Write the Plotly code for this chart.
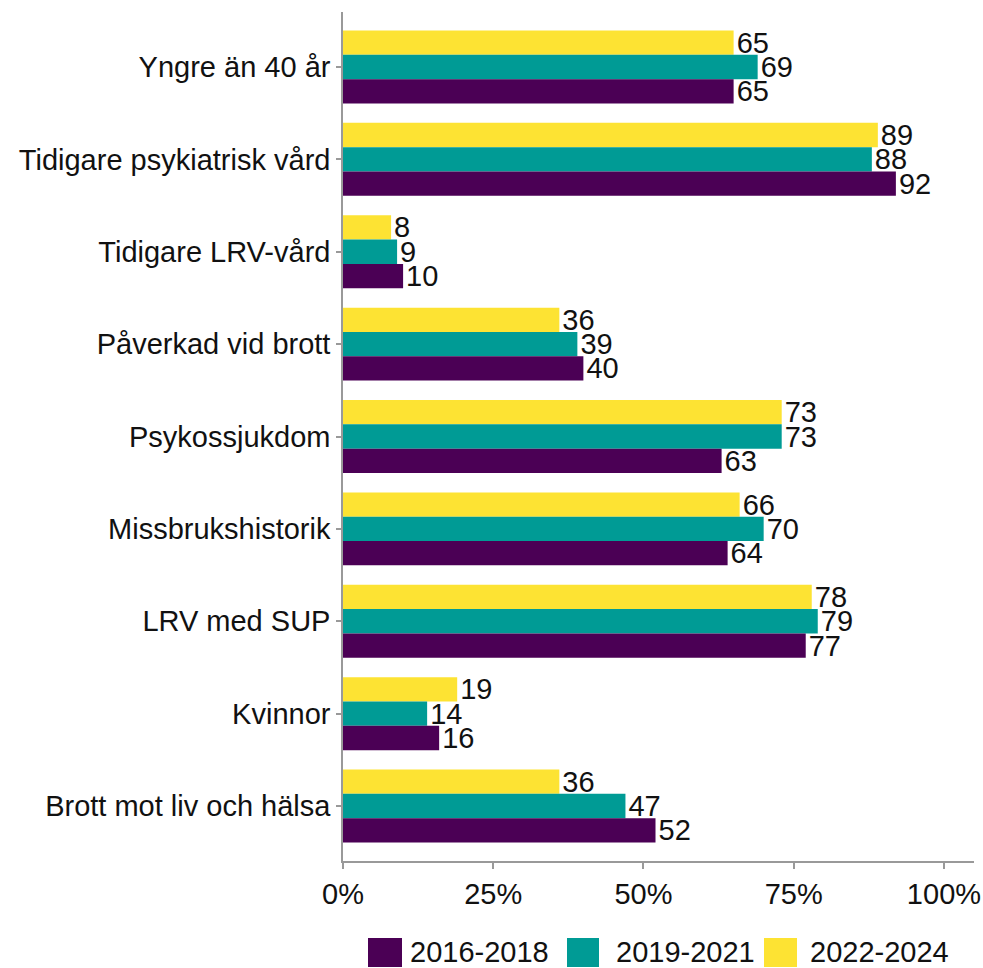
import plotly.graph_objects as go

categories = ["Yngre än 40 år", "Tidigare psykiatrisk vård", "Tidigare LRV-vård",
              "Påverkad vid brott", "Psykossjukdom", "Missbrukshistorik",
              "LRV med SUP", "Kvinnor", "Brott mot liv och hälsa"]
series_names = ["2016-2018", "2019-2021", "2022-2024"]
values_2016_2018 = [65, 92, 10, 40, 63, 64, 77, 16, 52]
values_2019_2021 = [69, 88, 9, 39, 73, 70, 79, 14, 47]
values_2022_2024 = [65, 89, 8, 36, 73, 66, 78, 19, 36]
colors = ["#4B0055", "#009B95", "#FDE333"]
x_ticks = [0, 25, 50, 75, 100]
x_tick_labels = ["0%", "25%", "50%", "75%", "100%"]

series_values = [values_2016_2018, values_2019_2021, values_2022_2024]

FONT = "Liberation Sans, Arial, sans-serif"
FS = 29

fig = go.Figure()
# add in reverse so the newest period sits on top of each group
for name, vals, col in reversed(list(zip(series_names, series_values, colors))):
    fig.add_trace(go.Bar(
        y=categories, x=vals, name=name, orientation="h",
        marker=dict(color=col, line=dict(width=0)),
        text=vals, texttemplate="%{x}", textposition="outside",
        constraintext="none", cliponaxis=False,
        textfont=dict(family=FONT, size=FS, color="#111111"),
        showlegend=False,
    ))

L, R, T, B = 343, 9, 12, 107
W, H = 983, 968
pw = W - L - R
ph = H - T - B

def px_to_paper_x(px):
    return (px - L) / pw

def px_to_paper_y(py):
    return (H - B - py) / ph

legend_boxes = [(368, 402, 408), (567, 599, 614), (764, 797, 808)]
shapes = []
annotations = []
for (x0, x1, tx), name, col in zip(legend_boxes, series_names, colors):
    shapes.append(dict(type="rect", xref="paper", yref="paper",
                       x0=px_to_paper_x(x0), x1=px_to_paper_x(x1),
                       y0=px_to_paper_y(967), y1=px_to_paper_y(938),
                       fillcolor=col, line=dict(width=0)))
    annotations.append(dict(xref="paper", yref="paper", x=px_to_paper_x(tx),
                            y=px_to_paper_y(952), text=name, showarrow=False,
                            xanchor="left", yanchor="middle",
                            font=dict(family=FONT, size=FS, color="#111111")))

fig.update_layout(
    width=W, height=H,
    margin=dict(l=L, r=R, t=T, b=B, pad=0, autoexpand=False),
    barmode="group", bargap=0.21, bargroupgap=0,
    plot_bgcolor="white", paper_bgcolor="white",
    font=dict(family=FONT, size=FS, color="#111111"),
    shapes=shapes, annotations=annotations,
    xaxis=dict(range=[0, 105], tickvals=x_ticks, ticktext=x_tick_labels,
               automargin=False,
               showgrid=False, zeroline=False, showline=True,
               linecolor="#999999", linewidth=1.5, ticks="outside",
               ticklen=6, tickcolor="#999999", tickwidth=1.5,
               tickfont=dict(family=FONT, size=FS, color="#111111")),
    yaxis=dict(type="category", categoryorder="array", categoryarray=categories,
               automargin=False,
               range=[8.595, -0.595], showgrid=False, zeroline=False,
               showline=True, linecolor="#999999", linewidth=1.5,
               ticks="outside", ticklen=5, tickcolor="#999999", tickwidth=1.5,
               tickfont=dict(family=FONT, size=FS, color="#111111")),
)

fig.write_html("out.html",
               config={"displayModeBar": False},
               post_script="document.body.style.margin='0';"
                           "document.body.style.overflow='hidden';")
